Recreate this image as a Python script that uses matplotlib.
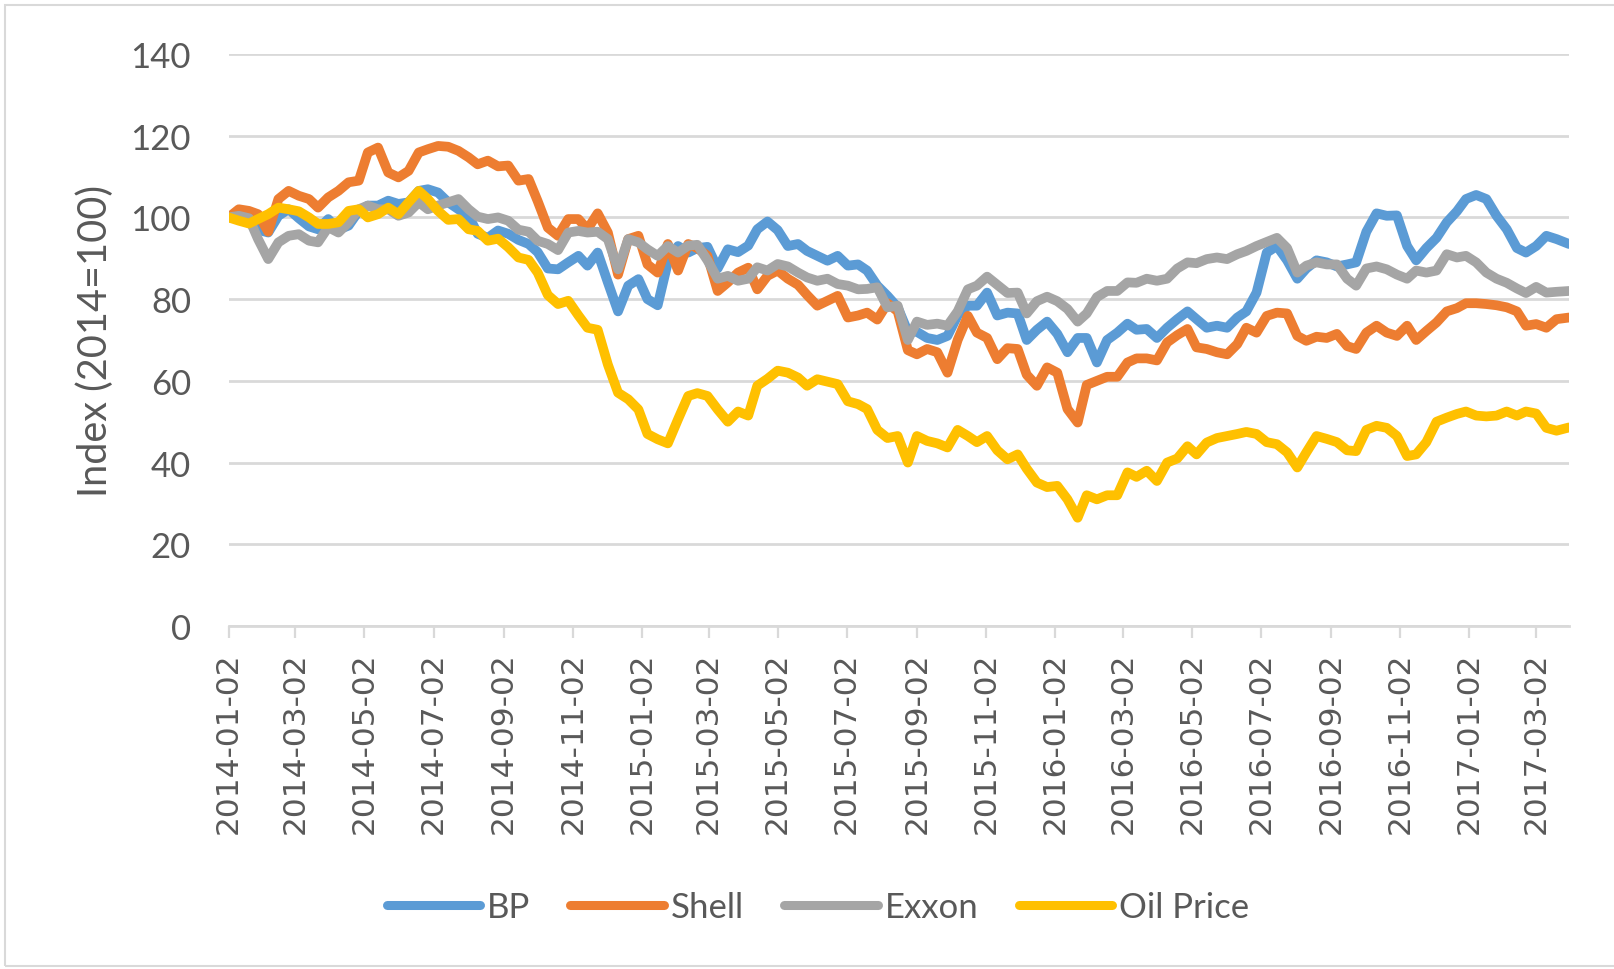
import matplotlib
matplotlib.use("Agg")
import matplotlib.pyplot as plt
import matplotlib.dates as mdates
import pandas as pd
from matplotlib.patches import Rectangle

dates = [
    "2014-01-02","2014-01-11","2014-01-20","2014-01-28","2014-02-06","2014-02-15","2014-02-24","2014-03-05","2014-03-14","2014-03-22",
    "2014-03-31","2014-04-09","2014-04-18","2014-04-27","2014-05-05","2014-05-14","2014-05-23","2014-06-01","2014-06-10","2014-06-19",
    "2014-06-27","2014-07-06","2014-07-15","2014-07-24","2014-08-02","2014-08-10","2014-08-19","2014-08-28","2014-09-06","2014-09-15",
    "2014-09-24","2014-10-02","2014-10-11","2014-10-20","2014-10-29","2014-11-07","2014-11-15","2014-11-24","2014-12-03","2014-12-12",
    "2014-12-21","2014-12-30","2015-01-07","2015-01-16","2015-01-25","2015-02-03","2015-02-12","2015-02-20","2015-03-01","2015-03-10",
    "2015-03-19","2015-03-28","2015-04-06","2015-04-14","2015-04-23","2015-05-02","2015-05-11","2015-05-20","2015-05-28","2015-06-06",
    "2015-06-15","2015-06-24","2015-07-03","2015-07-12","2015-07-20","2015-07-29","2015-08-07","2015-08-16","2015-08-25","2015-09-02",
    "2015-09-11","2015-09-20","2015-09-29","2015-10-08","2015-10-17","2015-10-25","2015-11-03","2015-11-12","2015-11-21","2015-11-30",
    "2015-12-08","2015-12-17","2015-12-26","2016-01-04","2016-01-13","2016-01-22","2016-01-30","2016-02-08","2016-02-17","2016-02-26",
    "2016-03-06","2016-03-14","2016-03-23","2016-04-01","2016-04-10","2016-04-19","2016-04-28","2016-05-06","2016-05-15","2016-05-24",
    "2016-06-02","2016-06-11","2016-06-19","2016-06-28","2016-07-07","2016-07-16","2016-07-25","2016-08-03","2016-08-11","2016-08-20",
    "2016-08-29","2016-09-07","2016-09-16","2016-09-24","2016-10-03","2016-10-12","2016-10-21","2016-10-30","2016-11-08","2016-11-16",
    "2016-11-25","2016-12-04","2016-12-13","2016-12-22","2016-12-30","2017-01-08","2017-01-17","2017-01-26","2017-02-04","2017-02-13",
    "2017-02-21","2017-03-02","2017-03-11","2017-03-20","2017-03-31",
]

bp = [
    100, 100.8, 99.8, 97, 96.3, 100.4, 102, 99.8, 97.8, 97.1,
    99.6, 97, 98, 101.6, 102.9, 102.9, 104.1, 103.3, 103.7, 106.5,
    106.9, 106.1, 103.7, 102, 100.4, 96, 95, 96.8, 96, 94.5,
    93.5, 91.5, 87.5, 87.3, 89, 90.6, 88.2, 91.4, 84.1, 77,
    83.3, 84.9, 80, 78.5, 89, 93, 91.4, 92.5, 92.8, 87.5,
    92.2, 91.5, 93.1, 97.1, 99, 96.9, 93, 93.5, 91.8, 90.6,
    89.4, 90.6, 88.2, 88.5, 87, 83.3, 80.8, 78, 72, 72,
    70.5, 70, 71, 76, 78.4, 78.4, 81.6, 76, 76.7, 76.5,
    70, 72.5, 74.5, 71.5, 67, 70.5, 70.5, 64.5, 70, 71.8,
    74, 72.5, 72.7, 70.5, 73, 75.1, 77, 75.1, 73, 73.5,
    73, 75.5, 77, 81.6, 91.4, 93, 89.5, 85, 87.5, 89.5,
    89, 88, 88.5, 89, 96.5, 101, 100.4, 100.5, 93, 89.5,
    92.5, 95, 98.8, 101.5, 104.5, 105.5, 104.5, 100.4, 97.1, 92.5,
    91.4, 93, 95.5, 94.7, 93.5,
]

shell = [
    100, 102, 101.6, 100.8, 96.5, 104.5, 106.5, 105.3, 104.5, 102.4,
    104.9, 106.5, 108.6, 109, 115.9, 117.1, 111, 109.8, 111.4, 115.9,
    116.7, 117.5, 117.3, 116.3, 114.7, 113, 113.9, 112.5, 112.7, 109,
    109.4, 104, 97.5, 95.5, 99.6, 99.6, 97.1, 101, 96.3, 86,
    94.7, 95.5, 88.5, 86.5, 93.5, 87, 93.5, 92.5, 90.6, 82,
    84.1, 86.5, 87.7, 82.4, 85.7, 87, 85, 83.5, 81, 78.4,
    79.6, 80.8, 75.5, 76, 76.7, 75, 79, 77, 67.5, 66.5,
    67.8, 67, 62, 70, 75.9, 71.8, 70.5, 65.3, 68, 67.8,
    61.5, 58.8, 63.3, 62, 53.1, 49.8, 59, 60, 61, 61,
    64.5, 65.5, 65.5, 65, 69.4, 71.2, 72.7, 68.2, 67.8, 67,
    66.5, 69, 73, 71.8, 75.9, 76.7, 76.5, 71, 69.8, 70.8,
    70.5, 71.5, 68.5, 67.8, 71.8, 73.5, 71.8, 71, 73.5, 70,
    72.2, 74.3, 77, 77.8, 79, 79, 78.8, 78.5, 78, 77,
    73.5, 73.9, 73, 75.1, 75.5,
]

exxon = [
    100, 100.4, 99.8, 94.7, 89.8, 93.9, 95.5, 95.9, 94.3, 93.9,
    97.6, 96.3, 98.8, 102, 102.9, 102, 102, 100.4, 101.2, 103.7,
    102, 102.9, 103.7, 104.5, 102, 100.2, 99.6, 100, 99.2, 97,
    96.5, 94.3, 93.5, 92, 96.3, 96.7, 96.3, 96.5, 94.7, 87.3,
    94.7, 93.9, 92.2, 90.6, 93, 91.4, 93.1, 93.3, 89.5, 85,
    85.7, 84.5, 85, 87.8, 87, 88.6, 88, 86.5, 85.3, 84.5,
    85, 83.7, 83.3, 82.4, 82.5, 82.9, 78, 78.4, 70, 74.5,
    73.7, 74, 73.5, 77, 82.4, 83.3, 85.5, 83.5, 81.5, 81.6,
    76.5, 79.5, 80.6, 79.5, 77.6, 74.5, 76.5, 80.5, 82, 82,
    84.1, 84, 85, 84.5, 85, 87.5, 89, 88.8, 89.8, 90.2,
    89.8, 91, 91.8, 93, 94, 95, 92.5, 86.5, 88.2, 89,
    88.5, 88.5, 85, 83.3, 87.5, 88, 87.3, 86, 85, 87,
    86.5, 87, 91, 90.2, 90.6, 89, 86.5, 85, 84, 82.6,
    81.5, 83, 81.6, 81.8, 82,
]

oil = [
    100, 99.2, 98.5, 99.6, 100.8, 102.4, 102, 101.5, 100, 98.4,
    98.4, 98.8, 101.6, 102, 100, 100.8, 102.4, 100.8, 103.7, 106.5,
    104.5, 101.6, 99.4, 99.6, 97.1, 96.7, 94.3, 94.8, 92.7, 90.2,
    89.6, 86.5, 81, 78.8, 79.6, 76, 73, 72.5, 64, 57.1,
    55.5, 53, 47, 45.7, 44.7, 50.6, 56.3, 57, 56.3, 53,
    50, 52.5, 51.5, 58.8, 60.5, 62.5, 62, 60.8, 58.8, 60.4,
    59.8, 59.2, 55, 54.3, 53.1, 48, 46, 46.5, 40, 46.5,
    45.3, 44.7, 43.7, 48, 46.5, 45, 46.5, 43, 40.8, 42,
    38.5, 35.1, 34, 34.3, 31, 26.5, 32, 31, 32, 32,
    37.6, 36.5, 38, 35.5, 40, 41, 44, 42, 44.9, 46,
    46.5, 47, 47.5, 47, 45, 44.5, 42.5, 38.8, 42.5, 46.5,
    45.8, 45, 43, 42.8, 48, 49, 48.5, 46.5, 41.6, 42,
    45, 50, 51, 51.9, 52.5, 51.5, 51.3, 51.5, 52.5, 51.5,
    52.5, 52, 48.5, 47.8, 48.6,
]

series_names = ["BP", "Shell", "Exxon", "Oil Price"]
series_values = [bp, shell, exxon, oil]
series_colors = ["#5B9BD5", "#ED7D31", "#A5A5A5", "#FFC000"]

y_ticks = [0, 20, 40, 60, 80, 100, 120, 140]
y_label = "Index (2014=100)"

TEXT = "#595959"
GRID = "#D9D9D9"

x = pd.to_datetime(dates)

fig = plt.figure(figsize=(16.15, 9.70), dpi=100)
ax = fig.add_axes([228.6 / 1615, 1 - 627 / 970, (1569 - 228.6) / 1615, (627 - 55) / 970])

for name, vals, col in zip(series_names, series_values, series_colors):
    ax.plot(x, vals, color=col, lw=7.0, solid_capstyle="round",
            solid_joinstyle="round", label=name)

ax.set_ylim(0, 140)
ax.set_yticks(y_ticks)
ax.set_xlim(x[0], x[-1])
ax.xaxis.set_major_locator(mdates.MonthLocator(bymonth=[1, 3, 5, 7, 9, 11], bymonthday=2))
ax.xaxis.set_major_formatter(mdates.DateFormatter("%Y-%m-%d"))

ax.grid(axis="y", color=GRID, lw=2.0)
ax.set_axisbelow(True)
for s in ["top", "right", "left"]:
    ax.spines[s].set_visible(False)
ax.spines["bottom"].set_color(GRID)
ax.spines["bottom"].set_linewidth(2.0)

ax.tick_params(axis="y", length=0, pad=27, labelsize=25, labelcolor=TEXT)
for lab in ax.get_yticklabels():
    lab.set_family("Lato")
ax.tick_params(axis="x", length=8.5, width=1.6, color=GRID, pad=10,
               labelsize=22.5, labelcolor=TEXT, labelrotation=90)
for lab in ax.get_xticklabels():
    lab.set_family("DejaVu Sans")

ax.set_ylabel(y_label, fontsize=28.5, color=TEXT, family="Lato", labelpad=12)

leg = fig.legend(loc="center", bbox_to_anchor=(818 / 1615, 1 - 908 / 970), ncol=4,
                 frameon=False, handlelength=2.7, handletextpad=0.2, columnspacing=1.15,
                 prop={"family": "Lato", "size": 25})
for t in leg.get_texts():
    t.set_color(TEXT)
for h in leg.get_lines():
    h.set_linewidth(6.5)
    h.set_solid_capstyle("round")

fig.add_artist(Rectangle((5 / 1615, 3 / 970), 1.2, 1 - 9 / 970, transform=fig.transFigure,
                         fill=False, edgecolor=GRID, lw=1.5))

fig.savefig("out.png", dpi=100, facecolor="white")
